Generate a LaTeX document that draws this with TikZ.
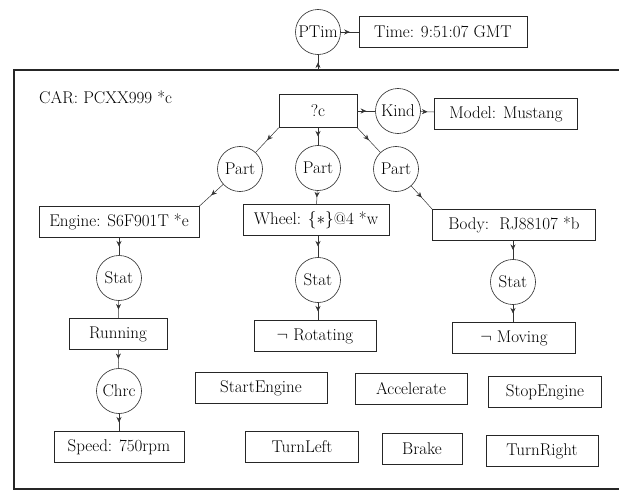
\documentclass[tikz,border=0pt]{standalone}
\usepackage{fontspec}
\usetikzlibrary{arrows.meta,decorations.markings}

\tikzset{
  concept/.style={draw=black!85, line width=0.6pt, minimum height=31pt, inner xsep=6pt},
  relation/.style={draw=black!85, line width=0.6pt, circle, minimum size=45pt, inner sep=1pt},
  arc/.style={draw=black!80, line width=0.5pt, postaction={decorate},
    decoration={markings, mark=at position 0.5 with {\arrow{Stealth[length=5.5pt,width=5pt]}}}},
}

\begin{document}
\begin{tikzpicture}[x=1pt, y=-1pt, font=\fontsize{17}{20}\selectfont]
    \useasboundingbox (0,0) rectangle (619,495);

    % outer context box: the car
    \draw[line width=1.3pt, black!85] (625,70) -- (14,70) -- (14,489) -- (625,489);
    \coordinate (cartop) at (318,70);
    \node[anchor=west, inner sep=0pt] (carlbl) at (39,97) {CAR: PCXX999 *c};

    % time stamp
    \node[relation] (ptim) at (318,32) {PTim};
    \node[concept, minimum width=168pt] (time) at (443,32) {Time: 9:51:07 GMT};

    % top of the graph
    \node[concept, minimum width=78pt, minimum height=33pt] (qc) at (318,111) {?c};
    \node[relation] (kind) at (398,111) {Kind};
    \node[concept, minimum width=143pt] (model) at (506,114) {Model: Mustang};

    \node[relation] (part1) at (240,169) {Part};
    \node[relation] (part2) at (318,168) {Part};
    \node[relation] (part3) at (396,169) {Part};

    % engine column
    \node[concept, minimum width=160pt] (engine) at (119,222) {Engine: S6F901T *e};
    \node[relation] (stat1) at (119,278) {Stat};
    \node[concept, minimum width=98pt] (running) at (118,334) {Running};
    \node[relation] (chrc) at (119,391) {Chrc};
    \node[concept, minimum width=130pt] (speed) at (119,447) {Speed: 750rpm};

    % wheel column
    \node[concept, minimum width=146pt] (wheel) at (316,220) {Wheel: $\{{\ast}\}$@4 *w};
    \node[relation] (stat2) at (318,280) {Stat};
    \node[concept, minimum width=122pt] (rotating) at (315,336) {$\neg$ Rotating};

    % body column
    \node[concept, minimum width=163pt] (body) at (514,225) {Body:\ \ RJ88107 *b};
    \node[relation] (stat3) at (513,282) {Stat};
    \node[concept, minimum width=123pt] (moving) at (514,338) {$\neg$ Moving};

    % actions
    \node[concept, minimum width=132pt] (start) at (261,388) {StartEngine};
    \node[concept, minimum width=112pt] (accel) at (411,389) {Accelerate};
    \node[concept, minimum width=113pt] (stop) at (545,392) {StopEngine};
    \node[concept, minimum width=113pt] (tleft) at (302,447) {TurnLeft};
    \node[concept, minimum width=80pt] (brake) at (422,449) {Brake};
    \node[concept, minimum width=112pt] (tright) at (542,451) {TurnRight};

    % arcs
    \draw[arc] (cartop) -- (ptim);
    \draw[arc] (ptim) -- (time);
    \draw[arc] (qc) -- (kind);
    \draw[arc] (kind) -- (model);
    \draw[arc] (qc.south west) -- (part1);
    \draw[arc] (qc) -- (part2);
    \draw[arc] (qc.south east) -- (part3);
    \draw[arc] (part1) -- (engine.north east);
    \draw[arc] (part2) -- (wheel);
    \draw[arc] (part3) -- (body.north west);
    \draw[arc] (engine) -- (stat1);
    \draw[arc] (stat1) -- (running);
    \draw[arc] (running) -- (chrc);
    \draw[arc] (chrc) -- (speed);
    \draw[arc] (wheel.south -| stat2) -- (stat2);
    \draw[arc] (stat2) -- (rotating.north -| stat2);
    \draw[arc] (body.south -| stat3) -- (stat3);
    \draw[arc] (stat3) -- (moving.north -| stat3);
\end{tikzpicture}
\end{document}
